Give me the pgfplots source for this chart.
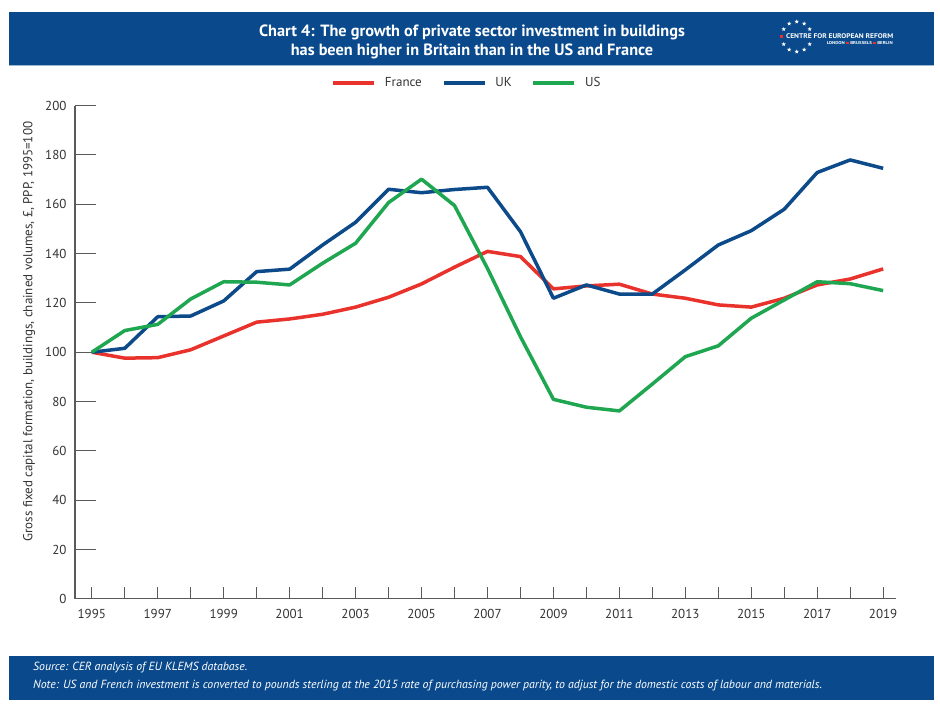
\documentclass[border=0pt]{standalone}
\usepackage{fontspec}
\setmainfont{PT Sans}
\usepackage{pgfplots}
\pgfplotsset{compat=1.18}
\usetikzlibrary{shapes.geometric,calc}
\definecolor{cerblue}{HTML}{0A4A8C}
\definecolor{frred}{HTML}{E8322B}
\definecolor{ukblue}{HTML}{0D4A8A}
\definecolor{usgreen}{HTML}{1EA650}
\definecolor{axisgrey}{HTML}{5A5A5A}
\definecolor{textgrey}{HTML}{333333}

\pgfplotstableread{
year France UK US
1995 100.0 100.0 100.0
1996 97.6 101.6 108.8
1997 97.8 114.4 111.3
1998 101.0 114.7 121.6
1999 106.6 120.8 128.6
2000 112.2 132.7 128.4
2001 113.5 133.7 127.3
2002 115.4 143.5 136.1
2003 118.3 152.7 144.2
2004 122.3 166.1 160.7
2005 127.7 164.7 170.2
2006 134.5 166.0 159.5
2007 140.9 166.9 134.0
2008 138.8 148.9 106.3
2009 125.7 121.9 80.9
2010 126.9 127.3 77.7
2011 127.6 123.6 76.2
2012 123.6 123.6 87.1
2013 121.9 133.4 98.2
2014 119.2 143.5 102.6
2015 118.3 149.3 113.8
2016 121.9 158.0 121.2
2017 127.3 172.9 128.6
2018 129.7 178.0 127.8
2019 133.8 174.6 125.0
}\datatable

\begin{document}
\begin{tikzpicture}[x=1pt,y=1pt]
\fill[white] (0,0) rectangle (940,708);
% header band
\fill[cerblue] (9,643) rectangle (934,696);
\draw[cerblue!40, line width=1pt] (9,642.5) -- (934,642.5);
\node[text=white, font=\fontsize{16.3}{19}\selectfont\bfseries, align=center] at (472,666)
  {Chart 4: The growth of private sector investment in buildings\\has been higher in Britain than in the US and France};
% logo
\foreach \a in {30,60,90,120,150,210,240,270,300,330}
  \node[star, star points=5, star point ratio=2.3, fill=white, inner sep=0pt, minimum size=4.4pt] at ($(796.7,671.3)+(\a:15)$) {};
\fill[frred] (780.2,670.3) rectangle (783.2,673.3);
\node[anchor=west, text=white, inner sep=0pt, font=\bfseries] at (786,671.8) {\resizebox{107pt}{4.8pt}{CENTRE FOR EUROPEAN REFORM}};
\node[anchor=east, text=white, inner sep=0pt, font=\bfseries] at (893,665.3) {\resizebox{66pt}{3pt}{LONDON {\color{frred}\rule{0.6em}{0.6em}} BRUSSELS {\color{frred}\rule{0.6em}{0.6em}} BERLIN}};
% footer band
\fill[cerblue] (9,8) rectangle (934,52);
\node[anchor=west, text=white, inner sep=0pt, font=\fontsize{11.8}{13}\selectfont\itshape] at (33,40)
  {Source: CER analysis of EU KLEMS database.};
\node[anchor=west, text=white, inner sep=0pt, font=\fontsize{11.8}{13}\selectfont\itshape] at (33,22)
  {Note: US and French investment is converted to pounds sterling at the 2015 rate of purchasing power parity, to adjust for the domestic costs of labour and materials.};
% y label
\node[rotate=90, text=textgrey, font=\fontsize{13}{15}\selectfont] at (29,376.3)
  {Gross fixed capital formation, buildings, chained volumes, £, PPP, 1995=100};

\begin{axis}[
  at={(75pt,109.2pt)}, anchor=south west,
  scale only axis, width=821pt, height=493.1pt,
  xmin=1994.49, xmax=2019.39, ymin=0, ymax=200,
  axis lines=left,
  axis line style={-, axisgrey, line width=1.3pt},
  tick align=inside,
  xtick={1995,1996,...,2019},
  xticklabels={1995,,1997,,1999,,2001,,2003,,2005,,2007,,2009,,2011,,2013,,2015,,2017,,2019},
  ytick={0,20,...,200},
  x tick style={axisgrey, line width=1pt, /pgfplots/major tick length=12pt},
  y tick style={axisgrey, line width=1pt, /pgfplots/major tick length=21pt},
  /pgf/number format/assume math mode=true,
  /pgf/number format/1000 sep={},
  ticklabel style={text=textgrey, font=\fontsize{13}{15}\selectfont},
  xticklabel style={yshift=-6.5pt},
  yticklabel style={xshift=-5pt},
  legend style={at={(0.4775,1.046)}, anchor=center, draw=none, fill=none,
    legend columns=3, font=\fontsize{13}{15}\selectfont, text=textgrey,
    /tikz/every odd column/.append style={column sep=7pt},
    /tikz/every even column/.append style={column sep=18pt}},
  legend image code/.code={\draw[#1, line width=3.5pt] (0pt,0pt) -- (41pt,0pt);},
  clip=false,
]
\addplot[frred, line width=3.5pt, line join=round] table[x=year, y=France] {\datatable};
\addlegendentry{France}
\addplot[ukblue, line width=3.5pt, line join=round] table[x=year, y=UK] {\datatable};
\addlegendentry{UK}
\addplot[usgreen, line width=3.5pt, line join=round] table[x=year, y=US] {\datatable};
\addlegendentry{US}
\end{axis}
\end{tikzpicture}
\end{document}
